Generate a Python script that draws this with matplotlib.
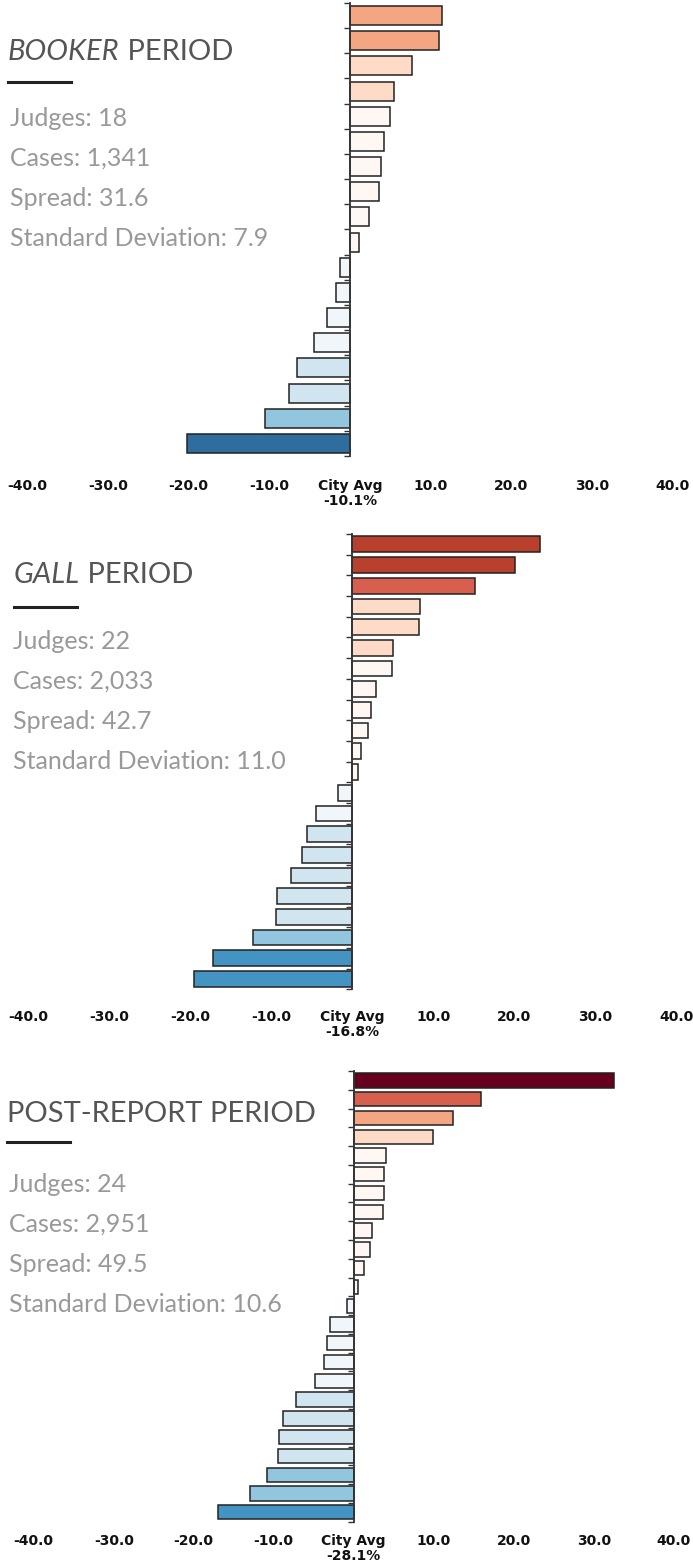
import numpy as np
import matplotlib
matplotlib.use("Agg")
import matplotlib.pyplot as plt
from matplotlib.colors import ListedColormap, BoundaryNorm
from matplotlib.lines import Line2D

W, H = 693, 1564

# each judge's rate vs the city average (percentage points), sorted high to low
booker_vals = [11.4, 11.0, 7.7, 5.4, 4.95, 4.25, 3.9, 3.6, 2.3, 1.1,
               -1.3, -1.7, -2.9, -4.5, -6.6, -7.5, -10.5, -20.2]
gall_vals = [23.2, 20.1, 15.1, 8.4, 8.27, 5.06, 4.94, 2.96, 2.3, 1.94, 1.1, 0.74,
             -1.73, -4.44, -5.56, -6.25, -7.6, -9.26, -9.38, -12.2, -17.2, -19.5]
post_vals = [32.5, 15.9, 12.45, 9.9, 4.0, 3.83, 3.83, 3.6, 2.3, 2.0, 1.3, 0.5,
             -0.9, -2.96, -3.3, -3.7, -4.9, -7.2, -8.9, -9.3, -9.5, -10.8, -13.0, -17.0]

periods = ["BOOKER", "GALL", "POST-REPORT"]
italic_name = [True, True, False]
judges = [18, 22, 24]
cases = ["1,341", "2,033", "2,951"]
spreads = ["31.6", "42.7", "49.5"]
std_devs = ["7.9", "11.0", "10.6"]
city_avgs = ["-10.1%", "-16.8%", "-28.1%"]
xticks = [-40, -30, -20, -10, 0, 10, 20, 30, 40]

# binned diverging colours
bounds = [-60, -20, -15, -10, -5, 0, 5, 10, 15, 20, 30, 60]
bin_colors = ['#2e6e9e', '#4393c3', '#92c5de', '#d1e5f0', '#f0f6fa',
              '#fff7f3', '#fddbc7', '#f4a582', '#d6604d', '#b9402d', '#67001f']
cmap = ListedColormap(bin_colors)
norm = BoundaryNorm(bounds, cmap.N)

# panel layout in pixels: axes left/right/top/bottom, text x, baselines, tick pad
layout = [
    dict(l=27.2, r=672.8, t=3, b=456, tx=8, sx=10, ty=60, uy=82, jy=126, pad=16.5),
    dict(l=28.3, r=676.3, t=534, b=989.3, tx=14, sx=13, ty=583, uy=607, jy=649, pad=15),
    dict(l=33.7, r=673.7, t=1071, b=1521.7, tx=7, sx=9, ty=1122, uy=1142, jy=1192, pad=9),
]


def fx(px):
    return px / W


def fy(py):
    return 1 - py / H


fig = plt.figure(figsize=(W / 100, H / 100), dpi=100)

all_vals = [booker_vals, gall_vals, post_vals]
for i, vals in enumerate(all_vals):
    L = layout[i]
    n = len(vals)
    ax = fig.add_axes([fx(L['l']), fy(L['b']), (L['r'] - L['l']) / W, (L['b'] - L['t']) / H])
    ax.barh(np.arange(n), vals, height=0.76, color=cmap(norm(vals)),
            edgecolor='#222222', linewidth=1.1, zorder=2)
    ax.set_xlim(-40, 40)
    ax.set_ylim(n - 0.5, -0.5)

    for s in ['top', 'right', 'bottom']:
        ax.spines[s].set_visible(False)
    ax.spines['left'].set_position(('data', 0))
    ax.spines['left'].set_color('#333333')
    ax.spines['left'].set_linewidth(1.3)
    ax.spines['left'].set_zorder(3)

    ax.set_yticks(np.arange(n + 1) - 0.5)
    ax.set_yticklabels([])
    ax.tick_params(axis='y', length=4, width=1, color='#333333', direction='out')

    ax.set_xticks(xticks)
    labels = ['City Avg\n' + city_avgs[i] if v == 0 else '%.1f' % v for v in xticks]
    ax.set_xticklabels(labels, fontfamily='DejaVu Sans', fontweight='bold',
                       fontsize=10, color='#111111')
    ax.tick_params(axis='x', length=0, pad=L['pad'])
    for lbl in ax.get_xticklabels():
        lbl.set_linespacing(1.1)

    # title, with the judge's name in italics
    first = periods[i] if italic_name[i] else periods[i] + " PERIOD"
    t1 = fig.text(fx(L['tx']), fy(L['ty']), first, fontfamily='Lato', fontsize=21,
                  color='#555555', va='baseline',
                  fontstyle='italic' if italic_name[i] else 'normal')
    if italic_name[i]:
        ax.annotate(" PERIOD", xy=(1, 0), xycoords=t1, va='bottom', ha='left',
                    fontfamily='Lato', fontsize=21, color='#555555', annotation_clip=False)

    fig.add_artist(Line2D([fx(L['tx']), fx(L['tx'] + 63)], [fy(L['uy']), fy(L['uy'])],
                          color='#222222', linewidth=2.2))

    stats = ["Judges: %d" % judges[i], "Cases: " + cases[i],
             "Spread: " + spreads[i], "Standard Deviation: " + std_devs[i]]
    for k, s in enumerate(stats):
        fig.text(fx(L['sx']), fy(L['jy'] + 40 * k), s, fontfamily='Lato',
                 fontsize=18, color='#999999', va='baseline')

fig.savefig("out.png", dpi=100)
